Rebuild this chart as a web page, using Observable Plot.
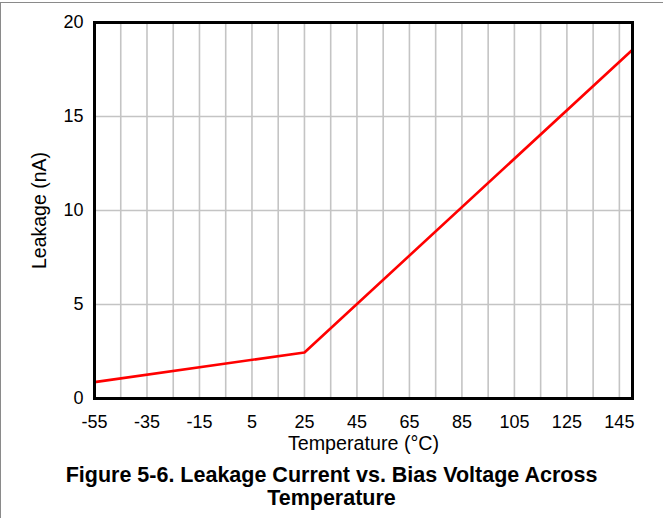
<!DOCTYPE html>
<html>
<head>
<meta charset="utf-8">
<script src="https://cdn.jsdelivr.net/npm/d3@7"></script>
<script src="https://cdn.jsdelivr.net/npm/@observablehq/plot@0.6"></script>
<style>
  html, body { margin: 0; padding: 0; background: #fff; }
  body { width: 663px; height: 518px; position: relative; overflow: hidden; font-family: "Liberation Sans", Arial, sans-serif; }
  #frameTop { position: absolute; left: 0; top: 2px; width: 663px; height: 0; border-top: 1px solid #8a8a8a; }
  #frameLeft { position: absolute; left: 0; top: 2px; width: 0; height: 516px; border-left: 1px solid #8a8a8a; }
  #chart { position: absolute; left: 0; top: 0; }
  #caption { position: absolute; left: 0; top: 463.6px; width: 663px; text-align: center; font-weight: bold; font-size: 21.5px; line-height: 23.3px; color: #000; }
</style>
</head>
<body>
<div id="frameTop"></div>
<div id="frameLeft"></div>
<div id="chart"></div>
<div id="caption">Figure 5-6. Leakage Current vs. Bias Voltage Across<br>Temperature</div>
<script>
// Data
const temperature = [-55, 25, 150];
const leakage = [0.87, 2.45, 18.55];

// Axis ticks and grid
const xTicks = [-55, -35, -15, 5, 25, 45, 65, 85, 105, 125, 145];
const xGrid = [-45, -35, -25, -15, -5, 5, 15, 25, 35, 45, 55, 65, 75, 85, 95, 105, 115, 125, 135, 145];
const yTicks = [0, 5, 10, 15, 20];
const yGrid = [5, 10, 15];

const xLabel = "Temperature (°C)";
const yLabel = "Leakage (nA)";

const points = temperature.map((t, i) => ({t, v: leakage[i]}));

const chart = Plot.plot({
  width: 663,
  height: 458,
  marginLeft: 94,
  marginRight: 31,
  marginTop: 22,
  marginBottom: 60,
  style: {fontFamily: "Liberation Sans, Arial, sans-serif", fontSize: "18px", color: "#000", background: "transparent"},
  x: {domain: [-55, 150]},
  y: {domain: [0, 20]},
  marks: [
    Plot.ruleX(xGrid, {stroke: "#c4c4c4", strokeWidth: 1.6}),
    Plot.ruleY(yGrid, {stroke: "#c4c4c4", strokeWidth: 1.6}),
    Plot.axisX({ticks: xTicks, tickSize: 0, tickPadding: 17, label: null, fontSize: 18, tickFormat: d => String(d)}),
    Plot.axisY({ticks: yTicks, tickSize: 0, tickPadding: 11, label: null, fontSize: 18, tickFormat: d => String(d)}),
    Plot.line(points, {x: "t", y: "v", stroke: "#ff0000", strokeWidth: 2.6}),
    Plot.frame({stroke: "#000", strokeWidth: 3}),
    Plot.text([xLabel], {frameAnchor: "bottom", dy: 44.7, text: d => d, fontSize: 19.7, textAnchor: "middle", lineAnchor: "middle"}),
    Plot.text([yLabel], {frameAnchor: "left", dx: -55, rotate: -90, text: d => d, fontSize: 19.5, textAnchor: "middle", lineAnchor: "middle"})
  ]
});
document.getElementById("chart").appendChild(chart);
</script>
</body>
</html>
